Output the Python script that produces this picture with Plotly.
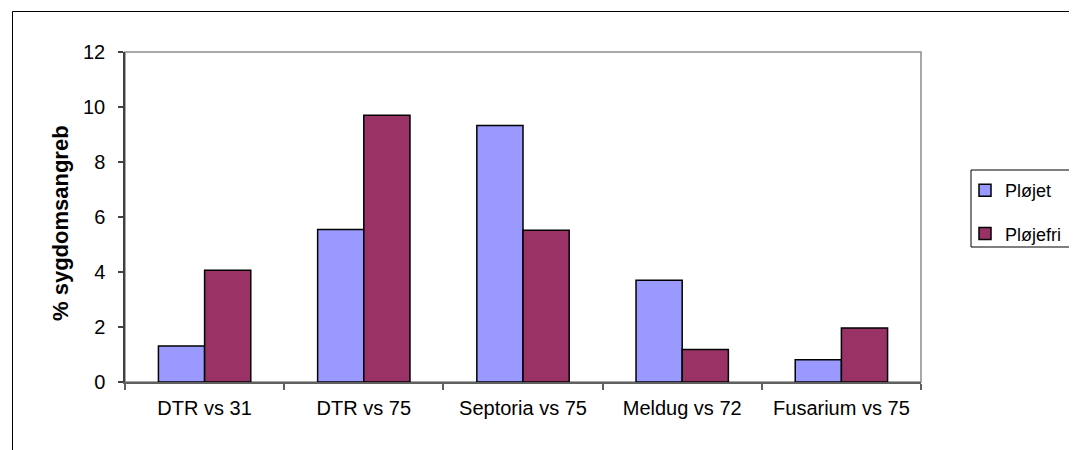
import plotly.graph_objects as go

categories = ["DTR vs 31", "DTR vs 75", "Septoria vs 75", "Meldug vs 72", "Fusarium vs 75"]
plojet = [1.31, 5.55, 9.33, 3.70, 0.81]
plojefri = [4.06, 9.70, 5.52, 1.18, 1.96]
series_names = ["Pløjet", "Pløjefri"]
y_title = "% sygdomsangreb"

FONT = "Arial, Liberation Sans, sans-serif"

fig = go.Figure()
fig.add_trace(go.Bar(x=categories, y=plojet, name=series_names[0], legendgroup="a",
                     marker=dict(color="#9999FF", line=dict(color="black", width=1.5))))
fig.add_trace(go.Bar(x=categories, y=plojefri, name=series_names[1], legendgroup="b",
                     marker=dict(color="#993366", line=dict(color="black", width=1.5))))

OFF = 8  # page body margin
L, R, T, B = 125 - OFF, 921 - OFF, 52 - OFF, 382 - OFF
W, H = 1077 - OFF, 450 - OFF
pw, ph = R - L, B - T

def px(x):
    return (x - OFF - L) / pw

def py(y):
    return (B - (y - OFF)) / ph

shapes = [
    dict(type="rect", xref="paper", yref="paper", x0=px(12.5), x1=px(1071), y0=py(470), y1=py(11.5),
         line=dict(color="black", width=1), layer="below"),
    dict(type="rect", xref="paper", yref="paper", x0=0, x1=1, y0=0, y1=1,
         line=dict(color="#8c8c8c", width=1.5), layer="below"),
    dict(type="rect", xref="paper", yref="paper", x0=px(971), x1=px(1071), y0=py(247), y1=py(170),
         line=dict(color="black", width=1), fillcolor="white", layer="below"),
]

fig.update_layout(
    width=W, height=H,
    margin=dict(l=L, r=W - R, t=T, b=H - B, autoexpand=False),
    paper_bgcolor="white", plot_bgcolor="white",
    barmode="group", bargap=0.42, bargroupgap=0,
    font=dict(family=FONT, color="black", size=20),
    showlegend=True,
    legend=dict(x=px(965), y=py(172), xanchor="left", yanchor="top",
                bgcolor="rgba(0,0,0,0)", borderwidth=0,
                font=dict(family=FONT, size=18, color="black"),
                tracegroupgap=17, itemwidth=30),
    shapes=shapes,
    annotations=[dict(text="<b>" + y_title + "</b>", xref="paper", yref="paper",
                      x=px(60), y=py(223), textangle=-90, showarrow=False,
                      font=dict(family=FONT, size=22, color="black"),
                      xanchor="center", yanchor="middle")],
)

fig.update_xaxes(type="category", showline=True, linecolor="#606060", linewidth=1.5,
                 ticks="outside", tickson="boundaries", ticklen=6, tickcolor="#606060", tickwidth=1.5,
                 showgrid=False, ticklabelstandoff=7,
                 tickfont=dict(family=FONT, size=20, color="black"))
fig.update_yaxes(range=[0, 12], dtick=2, showline=True, linecolor="#404040", linewidth=1.5,
                 ticks="outside", ticklen=5, tickcolor="#404040", tickwidth=1.5,
                 showgrid=False, zeroline=False, ticklabelstandoff=9,
                 tickfont=dict(family=FONT, size=20, color="black"))

fig.write_html("out.html")
